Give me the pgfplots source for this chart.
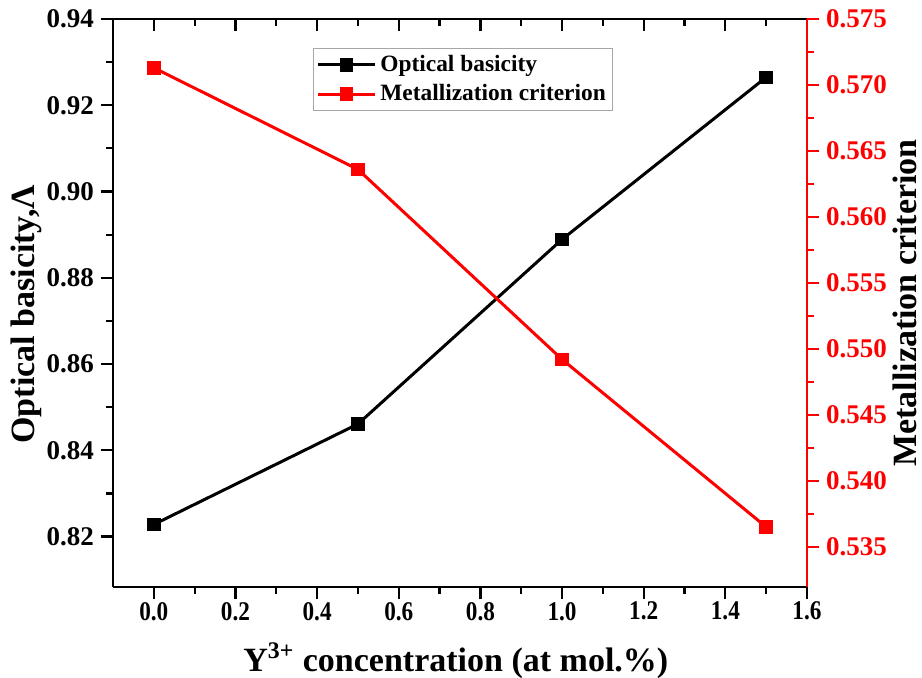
\documentclass[border=0pt]{standalone}
\usepackage{pgfplots}
\pgfplotsset{compat=1.18}
\usepackage{graphicx}
\usepackage{fontspec}
\setmainfont{Liberation Serif}

% Optical basicity (left axis) and metallization criterion (right axis)
\pgfplotstableread{
x     ob      mc
0.0   0.8228  0.5713
0.5   0.8461  0.5636
1.0   0.8889  0.5492
1.5   0.9265  0.5365
}\datatable

\begin{document}
\begin{tikzpicture}
\path[use as bounding box] (0,0) rectangle (461pt,338.5pt);
\pgfplotsset{
  common/.style={
    at={(56.5pt,45pt)}, anchor=south west,
    scale only axis, width=347pt, height=284pt,
    xmin=-0.1, xmax=1.6,
    xtick={0,0.2,0.4,0.6,0.8,1.0,1.2,1.4,1.6},
    minor x tick num=1,
    /pgf/number format/assume math mode=true,
    ticklabel style={font=\bfseries\fontsize{13.5}{13.5}\selectfont},
    major tick length=6pt, minor tick length=3.5pt,
    every tick/.style={line width=1.1pt},
    axis line style={line width=1.3pt},
    clip=false,
  },
}
% top frame with inward ticks
\begin{axis}[common, ymin=0.8083, ymax=0.94,
  axis x line*=top, axis y line=none,
  xtick align=inside, xticklabels={}]
\end{axis}
% left axis: optical basicity
\begin{axis}[common, ymin=0.8083, ymax=0.94,
  axis x line*=bottom, axis y line*=left,
  tick align=outside,
  ytick={0.82,0.84,0.86,0.88,0.90,0.92,0.94},
  minor y tick num=1,
  xticklabel={\scalebox{0.86}[1]{\pgfmathprintnumber[fixed,fixed zerofill,precision=1]{\tick}}},
  xticklabel style={yshift=2pt},
  yticklabel={\pgfmathprintnumber[fixed,fixed zerofill,precision=2]{\tick}},
  xlabel={Y\textsuperscript{3+} concentration (at mol.\%)},
  ylabel={Optical basicity,Λ},
  label style={font=\bfseries\fontsize{17}{18}\selectfont},
  xlabel style={at={(axis description cs:0.494,-0.13)}, anchor=center},
  ylabel style={at={(axis description cs:-0.125,0.48)}, anchor=center},
  legend style={at={(0.288,0.9495)}, anchor=north west,
    draw=gray!70, line width=0.6pt, fill=white,
    font=\bfseries\fontsize{11.7}{13}\selectfont,
    inner sep=1.5pt, row sep=1pt},
  legend cell align=left,
  legend image code/.code={%
    \draw[mark repeat=2,mark phase=2] plot coordinates {(0cm,0cm) (0.5cm,0cm) (1.0cm,0cm)};},
]
\addplot[black, line width=1.5pt, mark=square*, mark size=2.6pt] table[x=x,y=ob] {\datatable};
\addlegendentry{Optical basicity}
\addlegendimage{red, line width=1.5pt, mark=square*, mark size=2.6pt}
\addlegendentry{Metallization criterion}
\end{axis}
% right axis: metallization criterion
\begin{axis}[common, ymin=0.53195, ymax=0.575,
  axis x line=none, axis y line*=right,
  tick align=outside,
  y axis line style={red},
  ytick style={red},
  minor y tick style={red},
  ytick={0.535,0.540,0.545,0.550,0.555,0.560,0.565,0.570,0.575},
  minor y tick num=1,
  yticklabel={\pgfmathprintnumber[fixed,fixed zerofill,precision=3]{\tick}},
  yticklabel style={red},
  ylabel={Metallization criterion},
  ylabel style={font=\bfseries\fontsize{17}{18}\selectfont,
    at={(axis description cs:1.141,0.5)}, anchor=center},
]
\addplot[red, line width=1.5pt, mark=square*, mark size=2.6pt] table[x=x,y=mc] {\datatable};
\end{axis}
\end{tikzpicture}
\end{document}
